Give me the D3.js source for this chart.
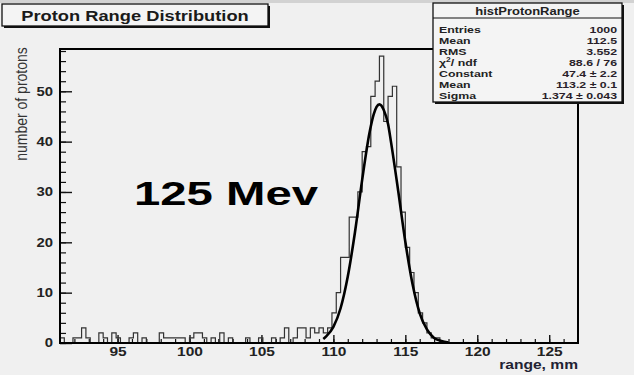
<!DOCTYPE html>
<html>
<head>
<meta charset="utf-8">
<script src="https://cdn.jsdelivr.net/npm/d3@7"></script>
<style>
  body { margin: 0; background: #f0f0f0; }
  svg { display: block; font-family: "Liberation Sans", Arial, sans-serif; }
</style>
</head>
<body>
<div id="chart"></div>
<script>
// histogram: 120 bins of 0.3 mm starting at 91 mm
const binStart = 91;
const binWidth = 0.3;
const counts = [
  1, 0, 0, 1, 1, 3, 1, 0, 0, 2,
  1, 0, 2, 1, 0, 0, 1, 2, 0, 1,
  0, 0, 0, 2, 1, 1, 1, 1, 1, 0,
  1, 2, 2, 1, 0, 1, 0, 2, 0, 1,
  0, 0, 0, 1, 0, 0, 1, 0, 0, 1,
  0, 1, 3, 0, 1, 3, 3, 1, 3, 2,
  3, 2, 3, 6, 10, 17, 17, 25, 25, 30,
  38, 39, 49, 52, 57, 44, 49, 51, 35, 26,
  19, 14, 10, 6, 4, 2, 1, 1, 0, 0,
  0, 0, 0, 0, 0, 0, 0, 0, 0, 0,
  0, 0, 0, 0, 0, 0, 0, 0, 0, 0,
  0, 0, 0, 0, 0, 0, 0, 0, 0, 0
];

// gaussian fit curve
const fitX = [109.3, 109.5, 110.0, 110.5, 111.0, 111.5, 112.0, 112.5, 112.8, 113.0, 113.2,
              113.5, 113.8, 114.0, 114.5, 115.0, 115.5, 116.0, 116.5, 117.0, 117.5, 118.0];
const fitY = [0.8, 1.3, 3.2, 6.9, 13.2, 22.0, 32.4, 41.6, 45.4, 46.9, 47.4,
              46.3, 43.5, 40.0, 30.3, 20.1, 11.7, 5.9, 2.7, 1.0, 0.4, 0.1];

const xMajor = [95, 100, 105, 110, 115, 120, 125];
const xMinor = d3.range(92, 127, 1);
const yMajor = [0, 10, 20, 30, 40, 50];
const yMinor = d3.range(0, 59, 2);

const title = "Proton Range Distribution";
const statsName = "histProtonRange";
const statsLabels = ["Entries", "Mean", "RMS", "chi2", "Constant", "Mean", "Sigma"];
const statsValues = ["1000", "112.5", "3.552", "88.6 / 76", "47.4 \u00b1 2.2", "113.2 \u00b1 0.1", "1.374 \u00b1 0.043"];

const width = 634;
const height = 375;
const frame = { left: 60, right: 578, top: 49, bottom: 343 };
const sx = 1.24; // text in the picture is stretched horizontally

const svg = d3.select("#chart").append("svg")
    .attr("width", width)
    .attr("height", height);

svg.append("rect").attr("width", width).attr("height", height).attr("fill", "#f0f0f0");
svg.append("rect").attr("width", width).attr("height", 3).attr("fill", "#d2d2d2");

const x = d3.scaleLinear().domain([91, 127]).range([frame.left, frame.right]);
const y = d3.scaleLinear().domain([0, 58.4]).range([frame.bottom, frame.top]);

function stretch(sel, k) {
    sel.each(function() {
        const t = d3.select(this);
        const tx = +t.attr("x") || 0;
        const ty = +t.attr("y") || 0;
        t.attr("x", 0).attr("y", 0)
         .attr("transform", `translate(${tx},${ty}) scale(${k},1)`);
    });
}

// minor ticks
svg.append("g")
    .attr("transform", `translate(${frame.left},0)`)
    .call(d3.axisLeft(y).tickValues(yMinor).tickSize(-6).tickFormat(""))
    .call(g => g.select(".domain").remove())
    .selectAll("line").attr("stroke", "#111").attr("stroke-width", 1.2);

svg.append("g")
    .attr("transform", `translate(0,${frame.bottom})`)
    .call(d3.axisBottom(x).tickValues(xMinor).tickSize(-4).tickFormat(""))
    .call(g => g.select(".domain").remove())
    .selectAll("line").attr("stroke", "#111").attr("stroke-width", 1.2);

// major ticks + labels
const yAxis = svg.append("g")
    .attr("transform", `translate(${frame.left},0)`)
    .call(d3.axisLeft(y).tickValues(yMajor).tickSize(-12).tickPadding(7));
yAxis.select(".domain").remove();
yAxis.selectAll("line").attr("stroke", "#111").attr("stroke-width", 1.4);
yAxis.selectAll("text")
    .attr("font-size", 12)
    .attr("font-weight", "bold")
    .attr("font-family", "Liberation Sans, Arial, sans-serif")
    .attr("fill", "#222")
    .call(stretch, sx);

const xAxis = svg.append("g")
    .attr("transform", `translate(0,${frame.bottom})`)
    .call(d3.axisBottom(x).tickValues(xMajor).tickSize(-8).tickPadding(4));
xAxis.select(".domain").remove();
xAxis.selectAll("line").attr("stroke", "#111").attr("stroke-width", 1.4);
xAxis.selectAll("text")
    .attr("font-size", 12.5)
    .attr("font-weight", "bold")
    .attr("font-family", "Liberation Sans, Arial, sans-serif")
    .attr("fill", "#222")
    .call(stretch, sx);

// histogram outline
const steps = [[binStart, 0]].concat(counts.map((c, i) => [binStart + i * binWidth, c]));
steps.push([binStart + counts.length * binWidth, counts[counts.length - 1]]);

svg.append("path")
    .attr("d", d3.line().x(d => x(d[0])).y(d => y(d[1])).curve(d3.curveStepAfter)(steps))
    .attr("fill", "none")
    .attr("stroke", "#333")
    .attr("stroke-width", 1.2);

// fit curve
svg.append("path")
    .attr("d", d3.line().x((d, i) => x(fitX[i])).y(d => y(d)).curve(d3.curveMonotoneX)(fitY))
    .attr("fill", "none")
    .attr("stroke", "#000")
    .attr("stroke-width", 2.6);

// frame
svg.append("rect")
    .attr("x", frame.left).attr("y", frame.top)
    .attr("width", frame.right - frame.left)
    .attr("height", frame.bottom - frame.top)
    .attr("fill", "none")
    .attr("stroke", "#000")
    .attr("stroke-width", 2);

// axis titles
svg.append("text")
    .attr("text-anchor", "end")
    .attr("font-size", 12)
    .attr("font-weight", "bold")
    .attr("fill", "#223")
    .attr("transform", `translate(${frame.right},369) scale(1.3,1)`)
    .text("range, mm");

svg.append("text")
    .attr("text-anchor", "middle")
    .attr("font-size", 14)
    .attr("fill", "#333")
    .attr("transform", "translate(27,104) rotate(-90) scale(1,1.2)")
    .text("number of protons");

// energy annotation
svg.append("text")
    .attr("x", 134).attr("y", 205)
    .attr("font-size", 34)
    .attr("font-weight", "bold")
    .attr("fill", "#000")
    .attr("textLength", 184)
    .attr("lengthAdjust", "spacingAndGlyphs")
    .text("125 Mev");

// boxes with ROOT-style shadow
function box(x0, y0, w, h) {
    svg.append("rect").attr("x", x0 + 2).attr("y", y0 + 2).attr("width", w).attr("height", h).attr("fill", "#111");
    svg.append("rect").attr("x", x0).attr("y", y0).attr("width", w).attr("height", h)
        .attr("fill", "#f4f4f4").attr("stroke", "#111").attr("stroke-width", 1.3);
}

box(2, 4, 266, 22);
svg.append("text")
    .attr("x", 135).attr("y", 20.5)
    .attr("text-anchor", "middle")
    .attr("font-size", 15)
    .attr("font-weight", "bold")
    .attr("fill", "#1a1a1a")
    .text(title)
    .call(stretch, 1.22);

// stats box
const sb = { x: 433, y: 3, w: 189, h: 99 };
box(sb.x, sb.y, sb.w, sb.h);
svg.append("line")
    .attr("x1", sb.x).attr("x2", sb.x + sb.w)
    .attr("y1", 18).attr("y2", 18)
    .attr("stroke", "#111").attr("stroke-width", 1);

svg.append("text")
    .attr("x", sb.x + sb.w / 2).attr("y", 15)
    .attr("text-anchor", "middle")
    .attr("font-size", 10)
    .attr("font-weight", "bold")
    .attr("fill", "#222")
    .text(statsName)
    .call(stretch, 1.3);

const rowY = d3.scaleLinear().domain([0, 6]).range([32.5, 99]);

statsLabels.forEach((lab, i) => {
    const t = svg.append("text")
        .attr("x", sb.x + 6).attr("y", rowY(i))
        .attr("font-size", 9.5)
        .attr("font-weight", "bold")
        .attr("fill", "#222");
    if (lab === "chi2") {
        t.append("tspan").text("\u03c7");
        t.append("tspan").attr("dy", -4).attr("font-size", 6.5).text("2");
        t.append("tspan").attr("dy", 4).text("/ ndf");
    } else {
        t.text(lab);
    }
    t.call(stretch, 1.3);

    svg.append("text")
        .attr("x", sb.x + sb.w - 5).attr("y", rowY(i))
        .attr("text-anchor", "end")
        .attr("font-size", 9.5)
        .attr("font-weight", "bold")
        .attr("fill", "#2a1f2a")
        .text(statsValues[i])
        .call(stretch, 1.3);
});
</script>
</body>
</html>
